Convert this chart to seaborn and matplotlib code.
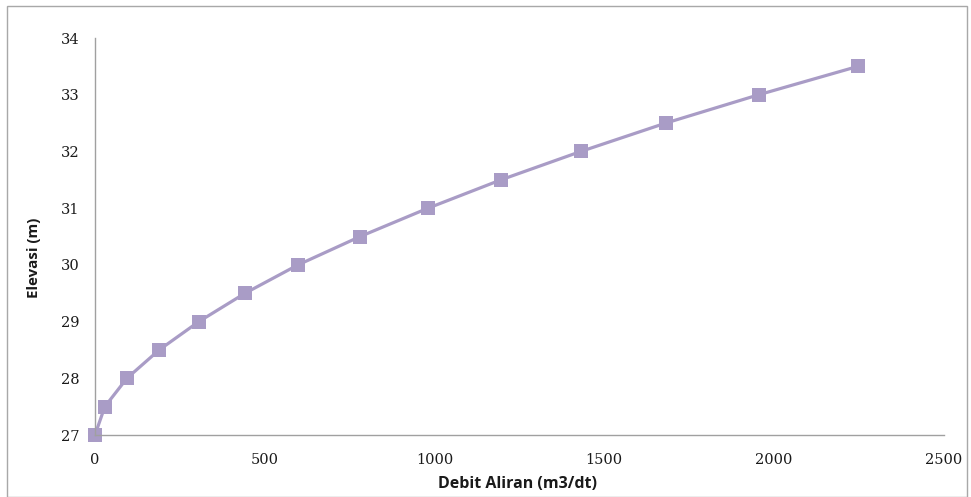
import matplotlib
matplotlib.use("Agg")
import matplotlib.pyplot as plt
import seaborn as sns
import pandas as pd
from matplotlib.patches import Rectangle

debit = [0, 29, 94, 189, 306, 442, 598, 781, 981, 1196, 1431, 1681, 1955, 2247]
elevasi = [27.0, 27.5, 28.0, 28.5, 29.0, 29.5, 30.0, 30.5, 31.0, 31.5, 32.0, 32.5, 33.0, 33.5]
x_ticks = [0, 500, 1000, 1500, 2000, 2500]
y_ticks = [27, 28, 29, 30, 31, 32, 33, 34]

df = pd.DataFrame({"Debit Aliran (m3/dt)": debit, "Elevasi (m)": elevasi})

sns.set_theme(style="white")
color = "#A99CC6"

fig = plt.figure(figsize=(9.71, 4.97), dpi=100)
ax = fig.add_axes([0.0978, 0.1247, 0.8742, 0.7988])
sns.lineplot(data=df, x="Debit Aliran (m3/dt)", y="Elevasi (m)", ax=ax,
             color=color, linewidth=2.3, marker="s", markersize=10,
             markeredgewidth=0, markerfacecolor=color, sort=False)

ax.set_xlim(0, 2500)
ax.set_ylim(27, 34)
ax.set_xticks(x_ticks)
ax.set_yticks(y_ticks)
ax.set_xticklabels([str(t) for t in x_ticks], family="DejaVu Serif", fontsize=10.5, color="#1a1a1a")
ax.set_yticklabels([str(t) for t in y_ticks], family="DejaVu Serif", fontsize=10.5, color="#1a1a1a")
ax.tick_params(axis="x", length=0, pad=13)
ax.tick_params(axis="y", length=0, pad=11)
ax.set_xlabel("Debit Aliran (m3/dt)", fontsize=11.5, fontweight="bold", family="Open Sans", color="#1a1a1a")
ax.set_ylabel("Elevasi (m)", fontsize=10.8, fontweight="bold", family="Open Sans", color="#1a1a1a")
ax.xaxis.set_label_coords((518 - 95) / 849, -(484 - 435) / 397)
ax.yaxis.set_label_coords((34 - 95) / 849, (435 - 258) / 397)
ax.xaxis.label.set_va("center")
ax.yaxis.label.set_va("center")

for s in ["top", "right"]:
    ax.spines[s].set_visible(False)
for s in ["left", "bottom"]:
    ax.spines[s].set_color("#A0A0A0")
    ax.spines[s].set_linewidth(1.0)
for line in ax.lines:
    line.set_clip_on(False)

fig.patches.append(Rectangle((7/971, 0.0), 960/971, 1 - 6/497, transform=fig.transFigure,
                             fill=False, edgecolor="#A8A8A8", linewidth=1.0))

fig.savefig("out.png", dpi=100, facecolor="white")
